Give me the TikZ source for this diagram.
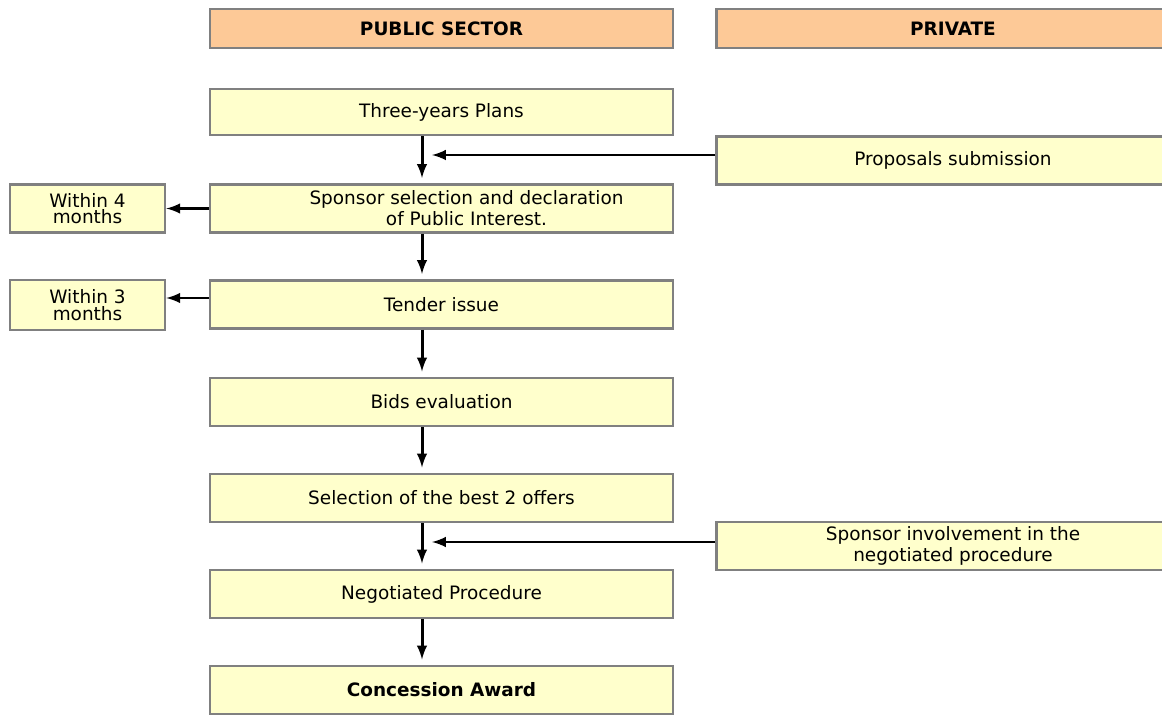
\documentclass[tikz,border=0pt]{standalone}
\usepackage{fontspec}
\setmainfont{DejaVu Sans}
\usetikzlibrary{arrows}
\definecolor{headfill}{RGB}{253,201,151}
\definecolor{boxfill}{RGB}{255,255,204}
\definecolor{boxline}{RGB}{128,128,128}
\begin{document}
\begin{tikzpicture}[x=0.02cm,y=-0.02cm,>=latex,
  main node/.style={rectangle,fill=boxfill,draw=boxline,line width=1.5pt,
  font=\fontsize{10.5}{12}\selectfont,align=center,
  minimum width=9.26cm,minimum height=0.96cm,inner sep=0pt},
  head node/.style={main node,fill=headfill,minimum height=0.78cm,font=\fontsize{10.5}{12}\selectfont\bfseries},
  side node/.style={main node,minimum width=3.1cm,font=\fontsize{10.5}{9.5}\selectfont}]

  \useasboundingbox (0,0) rectangle (1162,715);

  \node[head node] (public) at (441.5,28.5) {PUBLIC SECTOR};
  \node[head node,minimum width=9.46cm] (private) at (953,28.5) {PRIVATE};

  \node[main node,minimum height=0.92cm] (plans) at (441.5,112) {Three-years Plans};
  \node[main node,minimum width=9.46cm] (proposals) at (953,160.5) {Proposals submission};
  \node[main node] (sponsor) at (441.5,208.5) {\hspace*{1cm}Sponsor selection and declaration\\ \hspace*{1cm}of Public Interest.};
  \node[side node] (within4) at (87.5,208.5) {Within 4\\ months};
  \node[main node] (tender) at (441.5,304.5) {Tender issue};
  \node[side node,minimum height=1cm] (within3) at (87.5,305) {Within 3\\ months};
  \node[main node] (bids) at (441.5,402) {Bids evaluation};
  \node[main node] (best) at (441.5,498) {Selection of the best 2 offers};
  \node[main node,minimum width=9.46cm] (involve) at (953,546) {Sponsor involvement in the\\ negotiated procedure};
  \node[main node] (negotiated) at (441.5,594) {Negotiated Procedure};
  \node[main node] (award) at (441.5,690) {\bfseries Concession Award};

  \coordinate (spine) at (422,0);
  \coordinate (join) at (432,0);

  \path[->,line width=1.7pt,shorten >=3pt]
    (plans.south -| spine) edge (sponsor.north -| spine)
    (sponsor.south -| spine) edge (tender.north -| spine)
    (tender.south -| spine) edge (bids.north -| spine)
    (bids.south -| spine) edge (best.north -| spine)
    (best.south -| spine) edge (negotiated.north -| spine)
    (negotiated.south -| spine) edge (award.north -| spine);
  \path[->,line width=1.7pt]
    (proposals.west |- 0,155) edge (join |- 0,155)
    (involve.west |- 0,542) edge (join |- 0,542)
    (sponsor.west) edge (within4.east)
    (tender.west |- 0,298) edge (within3.east |- 0,298);
\end{tikzpicture}
\end{document}
